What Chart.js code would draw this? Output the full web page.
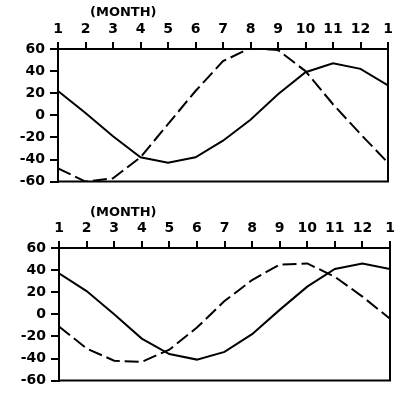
<!DOCTYPE html>
<html>
<head>
<meta charset="utf-8">
<script src="https://cdn.jsdelivr.net/npm/chart.js@4.4.1/dist/chart.umd.min.js"></script>
<style>
  html, body { margin: 0; padding: 0; background: #fff; }
  #wrap { position: relative; width: 401px; height: 394px; overflow: hidden; }
  canvas { position: absolute; left: 0; }
  #topChart { top: 0; }
  #bottomChart { top: 195px; }
</style>
</head>
<body>
<div id="wrap">
  <canvas id="topChart" width="401" height="195"></canvas>
  <canvas id="bottomChart" width="401" height="199"></canvas>
</div>
<script>
// month positions 1..13 (13 = January of the next year)
const months = [1, 2, 3, 4, 5, 6, 7, 8, 9, 10, 11, 12, 13];
const monthLabels = ['1', '2', '3', '4', '5', '6', '7', '8', '9', '10', '11', '12', '1'];
const yTicks = [-60, -40, -20, 0, 20, 40, 60];
const axisTitle = '(MONTH)';

// upper panel
const topSolid = [22, 2, -19, -38, -43, -38, -23, -4, 19, 39, 47, 42, 27];
const topDashed = [-48, -60, -57, -38, -8, 22, 49, 61, 59, 40, 10, -17, -43];

// lower panel
const bottomSolid = [37, 21, 0, -22, -36, -41, -34, -18, 4, 25, 41, 46, 41];
const bottomDashed = [-11, -31, -42, -43, -32, -12, 12, 31, 45, 46, 34, 16, -4];

const FONT = { family: "'DejaVu Sans', sans-serif", size: 14, weight: 'bold' };

// box border on bottom/right plus the "(MONTH)" caption
const frame = {
    id: 'frame',
    afterDraw(chart, args, opts) {
        const a = chart.chartArea;
        const ctx = chart.ctx;
        ctx.save();
        ctx.strokeStyle = '#000';
        ctx.lineWidth = 2;
        ctx.beginPath();
        ctx.moveTo(a.left, a.bottom);
        ctx.lineTo(a.right, a.bottom);
        ctx.lineTo(a.right, a.top);
        ctx.stroke();
        ctx.fillStyle = '#000';
        ctx.font = 'bold 13px "DejaVu Sans", sans-serif';
        ctx.textAlign = 'left';
        ctx.textBaseline = 'middle';
        ctx.fillText(axisTitle, a.left + opts.titleDx, opts.titleY);
        ctx.restore();
    }
};

function points(values) {
    return months.map((m, i) => ({ x: m, y: values[i] }));
}

function makeChart(id, solid, dashed, box) {
    const ctx = document.getElementById(id).getContext('2d');
    return new Chart(ctx, {
        type: 'line',
        data: {
            datasets: [{
                data: points(solid),
                borderColor: '#000',
                borderWidth: 2,
                pointRadius: 0,
                tension: 0
            }, {
                data: points(dashed),
                borderColor: '#000',
                borderWidth: 2,
                borderDash: [14, 5],
                pointRadius: 0,
                tension: 0
            }]
        },
        options: {
            responsive: false,
            animation: false,
            layout: {
                padding: { left: 0, top: 0, right: box.padRight, bottom: box.padBottom }
            },
            scales: {
                x: {
                    type: 'linear',
                    position: 'top',
                    min: 1,
                    max: 13,
                    afterBuildTicks: s => { s.ticks = months.map(v => ({ value: v })); },
                    afterFit: s => { s.height = box.top; },
                    ticks: {
                        color: '#000',
                        font: FONT,
                        padding: 4,
                        maxRotation: 0,
                        autoSkip: false,
                        callback: v => monthLabels[v - 1]
                    },
                    grid: {
                        drawOnChartArea: false,
                        color: '#000',
                        lineWidth: 2,
                        tickLength: 7
                    },
                    border: { color: '#000', width: 2 }
                },
                y: {
                    min: -60,
                    max: 60,
                    afterBuildTicks: s => { s.ticks = yTicks.map(v => ({ value: v })); },
                    afterFit: s => { s.width = box.left; },
                    ticks: {
                        color: '#000',
                        font: FONT,
                        padding: 5
                    },
                    grid: {
                        drawOnChartArea: false,
                        color: '#000',
                        lineWidth: 2,
                        tickLength: 8
                    },
                    border: { color: '#000', width: 2 }
                }
            },
            plugins: {
                legend: { display: false },
                tooltip: { enabled: false },
                frame: { titleDx: box.titleDx, titleY: box.titleY }
            }
        },
        plugins: [frame]
    });
}

makeChart('topChart', topSolid, topDashed,
    { left: 58, top: 49, padRight: 13, padBottom: 13, titleDx: 32, titleY: 13 });
makeChart('bottomChart', bottomSolid, bottomDashed,
    { left: 59, top: 53, padRight: 11, padBottom: 9, titleDx: 31, titleY: 18 });
</script>
</body>
</html>
